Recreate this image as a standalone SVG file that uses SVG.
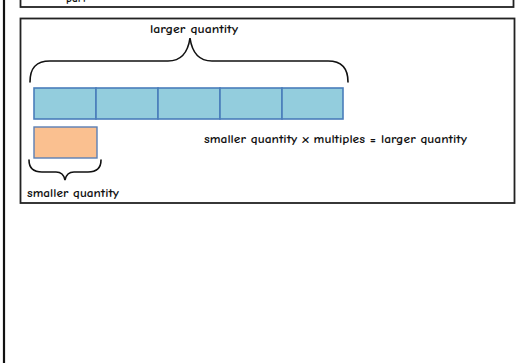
<svg xmlns="http://www.w3.org/2000/svg" width="516" height="363" viewBox="0 0 516 363">
<style>
.frame{fill:#fff;stroke:#222;stroke-width:1.8}
.cell{fill:#93CDDD;stroke:#4A7EBB;stroke-width:1.6}
.small{fill:#FAC090;stroke:#5B7FB5;stroke-width:1.4}
.brace{fill:none;stroke:#111;stroke-width:1.6;stroke-linecap:round}
.lbl{font-family:"Comic Neue","Comic Sans MS","Lato","DejaVu Sans",sans-serif;font-size:11.5px;font-weight:bold;fill:#111}
</style>
<rect width="516" height="363" fill="#fff"/>
<line x1="4" y1="0" x2="4" y2="363" stroke="#111" stroke-width="2.2"/>
<g id="top-box">
<rect class="frame" x="20.5" y="-10" width="493" height="17"/>
<text class="lbl" x="66" y="2">part</text>
</g>
<g id="box">
<rect class="frame" x="20.5" y="18.5" width="494" height="184.5"/>
</g>
<g id="larger-bar">
<rect class="cell" x="34" y="88" width="62" height="31"/>
<rect class="cell" x="96" y="88" width="62" height="31"/>
<rect class="cell" x="158" y="88" width="62" height="31"/>
<rect class="cell" x="220" y="88" width="62" height="31"/>
<rect class="cell" x="282" y="88" width="61" height="31"/>
</g>
<g id="smaller-bar">
<rect class="small" x="34" y="127" width="63" height="31"/>
</g>
<g id="connectors">
<path class="brace" d="M30,82 C30,68 36,61 50,61 L168,61 C182,61 188,52 190,38 C192,52 198,61 212,61 L328,61 C342,61 348,68 348,82"/>
<path class="brace" d="M29,160 C29,168 33,172 42,172 L56,172 C62,172 64,175 65,180 C66,175 68,172 74,172 L88,172 C97,172 101,168 101,160"/>
</g>
<g id="labels">
<text class="lbl" x="150" y="33" textLength="88" lengthAdjust="spacingAndGlyphs">larger quantity</text>
<text class="lbl" x="27" y="197" textLength="92" lengthAdjust="spacingAndGlyphs">smaller quantity</text>
<text class="lbl" x="204" y="143" textLength="263" lengthAdjust="spacingAndGlyphs">smaller quantity x multiples = larger quantity</text>
</g>
</svg>
